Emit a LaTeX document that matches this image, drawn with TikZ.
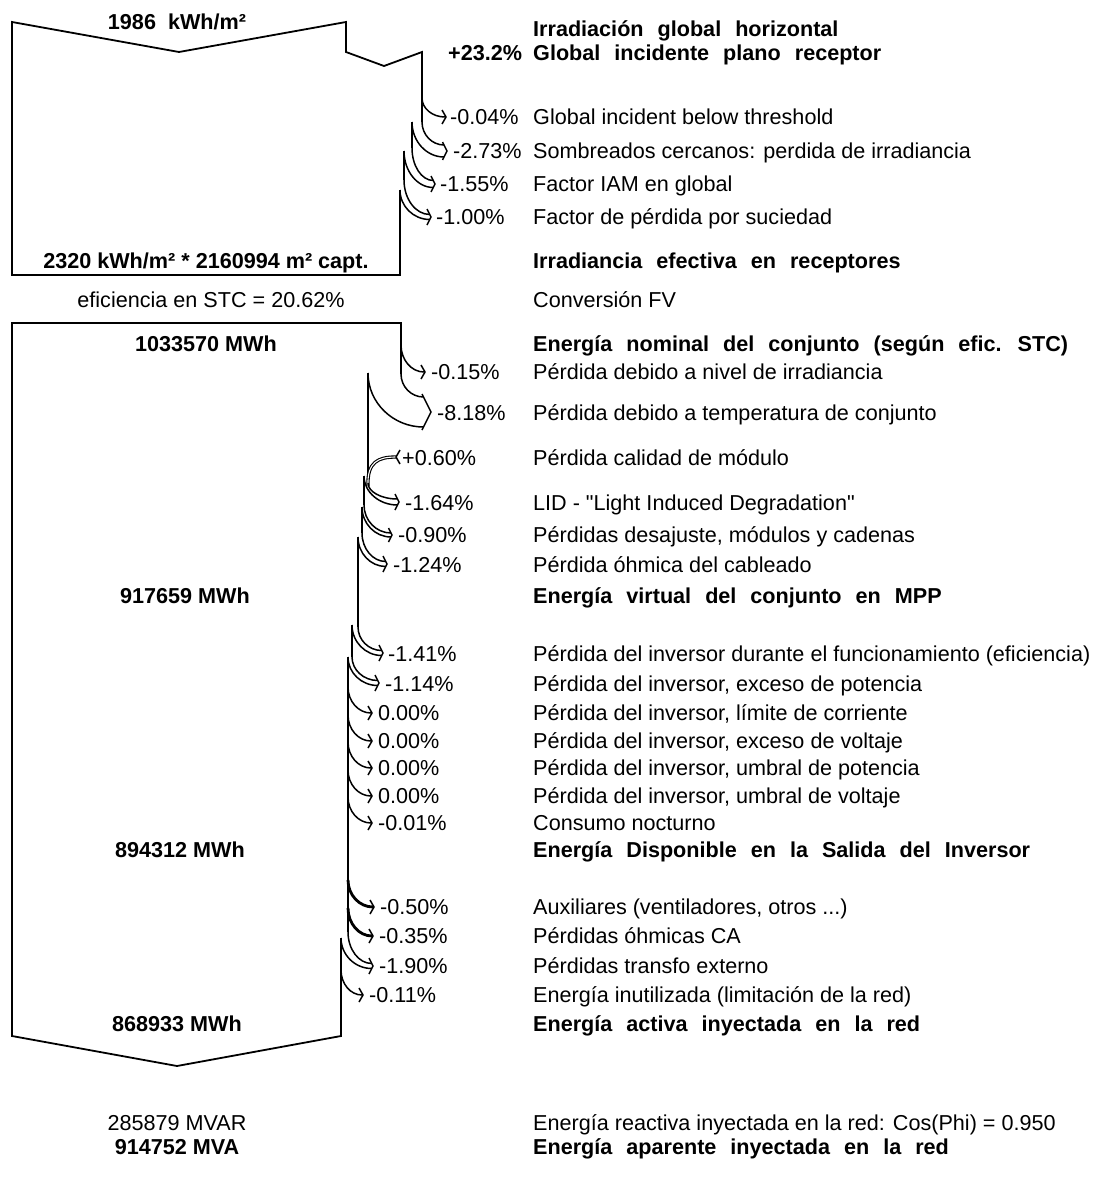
\documentclass[tikz,border=0pt]{standalone}
\usepackage{fontspec}
\setmainfont{Liberation Sans}
\newfontfamily\pvnomap{Liberation Sans}[Ligatures=TeXOff]
\newcommand{\pvfont}{\fontsize{21.6}{26}\selectfont}
\newcommand{\pvwide}{\spaceskip=14pt plus 0pt minus 0pt\relax}
\newcommand{\pvq}{{\pvnomap"}}
\tikzset{
  outl/.style={line width=1.8pt, line join=miter},
  flow/.style={line width=1.5pt},
  txt/.style={anchor=base west, inner sep=0pt, yshift=-7.7pt, font=\pvfont},
  btxt/.style={anchor=base west, inner sep=0pt, yshift=-7.7pt, font=\pvfont\bfseries\pvwide},
  ctxt/.style={anchor=base, inner sep=0pt, yshift=-7.7pt, font=\pvfont},
  cbtxt/.style={anchor=base, inner sep=0pt, yshift=-7.7pt, font=\pvfont\bfseries},
}
% single loss line: [opts]{xo}{yo}{xt}{yt}
\newcommand{\pvsingle}[5][]{%
  \draw[flow,#1] (#2,#3) .. controls (#2,{#3+0.55*(#5-#3)}) and ({#4-1-0.55*(#4-1-#2)},#5) .. ({#4-1},#5);
  \draw[flow] ({#4-4},{#5-7}) -- (#4,#5) -- ({#4-4},{#5+7});}
% band loss: {xo}{yo}{xi}{yi}{xt}{yt}{w}{h}
\newcommand{\pvband}[8]{%
  \pgfmathsetmacro\pvd{0.5*#8}%
  \pgfmathsetmacro\pve{#5-\pvd*#7/(2*#8)}%
  \pgfmathsetmacro\pvu{#6-#7/2}%
  \pgfmathsetmacro\pvl{#6+#7/2}%
  \draw[flow] (#1,#2) .. controls (#1,{#2+0.55*(\pvu-#2)}) and ({\pve-0.55*(\pve-#1)},\pvu) .. (\pve,\pvu);
  \draw[flow] (#3,#4) .. controls (#3,{#4+0.55*(\pvl-#4)}) and ({\pve-0.55*(\pve-#3)},\pvl) .. (\pve,\pvl);
  \draw[flow] ({#5-\pvd},{#6-#8}) -- (#5,#6) -- ({#5-\pvd},{#6+#8});}
\begin{document}
\begin{tikzpicture}[x=1pt,y=-1pt]
\useasboundingbox (0,0) rectangle (1095,1183);
\fill[white] (0,0) rectangle (1095,1183);

% ---------- top block ----------
\draw[outl] (400,190) -- (400,275) -- (12,275) -- (12,22) -- (179,52) -- (346,22) -- (346,52) -- (384,66) -- (422,52) -- (422,122);
\draw[outl] (412,122) -- (412,148);
\draw[outl] (404,151) -- (404,180);

\pvsingle{422}{98}{446}{117}
\pvband{422}{122}{412}{122}{447}{151}{12}{9}
\pvband{412}{148}{404}{151}{435}{184}{7}{8}
\pvband{404}{180}{400}{190}{431}{217}{5}{8}

\node[cbtxt] (t1986) at (177,22) {1986\ \ kWh/m²};
\node[btxt] (gpct) at (448,53) {+23.2\%};
\node[txt] (p1) at (450,117) {-0.04\%};
\node[txt] (p2) at (453,151) {-2.73\%};
\node[txt] (p3) at (440,184) {-1.55\%};
\node[txt] (p4) at (436,217) {-1.00\%};
\node[cbtxt] (t2320) at (206,261) {2320 kWh/m² * 2160994 m² capt.};
\node[ctxt] (teff) at (211,300) {eficiencia en STC = 20.62\%};

% ---------- main block ----------
\draw[outl] (401,374) -- (401,323) -- (12,323) -- (12,1036) -- (177,1066) -- (341,1036) -- (341,938);
\draw[outl] (368,373) -- (368,486);
\draw[outl] (364,476) -- (364,505);
\draw[outl] (362,507) -- (362,533);
\draw[outl] (358,537) -- (358,627);
\draw[outl] (352,625) -- (352,657);
\draw[outl] (348,657) -- (348,932);

\pvsingle{401}{345}{425}{372}
\pvband{401}{374}{368}{373}{431}{412}{30}{18}
% gain
\draw[line width=1.1pt, double distance=1.1pt] (368,486) .. controls (367,462) and (378,457) .. (396,457);
\draw[flow] (400,450) -- (396,457) -- (400,464);
\pvband{368}{483}{364}{476}{399}{502}{6}{8}
\pvband{364}{505}{362}{507}{392}{535}{4}{7}
\pvband{362}{533}{358}{537}{387}{564}{5}{8}
\pvband{358}{627}{352}{625}{383}{653}{5}{8}
\pvband{352}{657}{348}{657}{379}{683}{5}{8}
\pvsingle{348}{687}{372}{713}
\pvsingle{348}{715}{372}{741}
\pvsingle{348}{742}{372}{768}
\pvsingle{348}{770}{372}{796}
\pvsingle{348}{797}{372}{823}
\pvsingle[line width=2.8pt]{348}{880}{374}{907}
\pvsingle[line width=2.8pt]{348}{908}{373}{936}
\pvband{348}{932}{341}{938}{373}{966}{5}{8}
\pvsingle{341}{970}{363}{995}

\node[txt] (q1) at (431,372) {-0.15\%};
\node[txt] (q2) at (437,413) {-8.18\%};
\node[txt] (q3) at (402,458) {+0.60\%};
\node[txt] (q4) at (405,503) {-1.64\%};
\node[txt] (q5) at (398,535) {-0.90\%};
\node[txt] (q6) at (393,565) {-1.24\%};
\node[txt] (q7) at (388,654) {-1.41\%};
\node[txt] (q8) at (385,684) {-1.14\%};
\node[txt] (q9) at (378,713) {0.00\%};
\node[txt] (q10) at (378,741) {0.00\%};
\node[txt] (q11) at (378,768) {0.00\%};
\node[txt] (q12) at (378,796) {0.00\%};
\node[txt] (q13) at (378,823) {-0.01\%};
\node[txt] (q14) at (380,907) {-0.50\%};
\node[txt] (q15) at (379,936) {-0.35\%};
\node[txt] (q16) at (379,966) {-1.90\%};
\node[txt] (q17) at (369,995) {-0.11\%};

\node[cbtxt] (e1) at (206,344) {1033570 MWh};
\node[cbtxt] (e2) at (185,596) {917659 MWh};
\node[cbtxt] (e3) at (180,850) {894312 MWh};
\node[cbtxt] (e4) at (177,1024) {868933 MWh};
\node[ctxt] (e5) at (177,1123) {285879 MVAR};
\node[cbtxt] (e6) at (177,1147) {914752 MVA};

% ---------- right column ----------
\node[btxt] (r1) at (533,29) {Irradiación global horizontal};
\node[btxt] (r2) at (533,53) {Global incidente plano receptor};
\node[txt] (r3) at (533,117) {Global incident below threshold};
\node[txt] (r4) at (533,151) {Sombreados cercanos: perdida de irradiancia};
\node[txt] (r5) at (533,184) {Factor IAM en global};
\node[txt] (r6) at (533,217) {Factor de pérdida por suciedad};
\node[btxt] (r7) at (533,261) {Irradiancia efectiva en receptores};
\node[txt] (r8) at (533,300) {Conversión FV};
\node[btxt] (r9) at (533,344) {Energía nominal del conjunto (según efic. STC)};
\node[txt] (r10) at (533,372) {Pérdida debido a nivel de irradiancia};
\node[txt] (r11) at (533,413) {Pérdida debido a temperatura de conjunto};
\node[txt] (r12) at (533,458) {Pérdida calidad de módulo};
\node[txt] (r13) at (533,503) {LID - \pvq Light Induced Degradation\pvq};
\node[txt] (r14) at (533,535) {Pérdidas desajuste, módulos y cadenas};
\node[txt] (r15) at (533,565) {Pérdida óhmica del cableado};
\node[btxt] (r16) at (533,596) {Energía virtual del conjunto en MPP};
\node[txt] (r17) at (533,654) {Pérdida del inversor durante el funcionamiento (eficiencia)};
\node[txt] (r18) at (533,684) {Pérdida del inversor, exceso de potencia};
\node[txt] (r19) at (533,713) {Pérdida del inversor, límite de corriente};
\node[txt] (r20) at (533,741) {Pérdida del inversor, exceso de voltaje};
\node[txt] (r21) at (533,768) {Pérdida del inversor, umbral de potencia};
\node[txt] (r22) at (533,796) {Pérdida del inversor, umbral de voltaje};
\node[txt] (r23) at (533,823) {Consumo nocturno};
\node[btxt] (r24) at (533,850) {Energía Disponible en la Salida del Inversor};
\node[txt] (r25) at (533,907) {Auxiliares (ventiladores, otros ...)};
\node[txt] (r26) at (533,936) {Pérdidas óhmicas CA};
\node[txt] (r27) at (533,966) {Pérdidas transfo externo};
\node[txt] (r28) at (533,995) {Energía inutilizada (limitación de la red)};
\node[btxt] (r29) at (533,1024) {Energía activa inyectada en la red};
\node[txt] (r30) at (533,1123) {Energía reactiva inyectada en la red: Cos(Phi) = 0.950};
\node[btxt] (r31) at (533,1147) {Energía aparente inyectada en la red};
\end{tikzpicture}
\end{document}
